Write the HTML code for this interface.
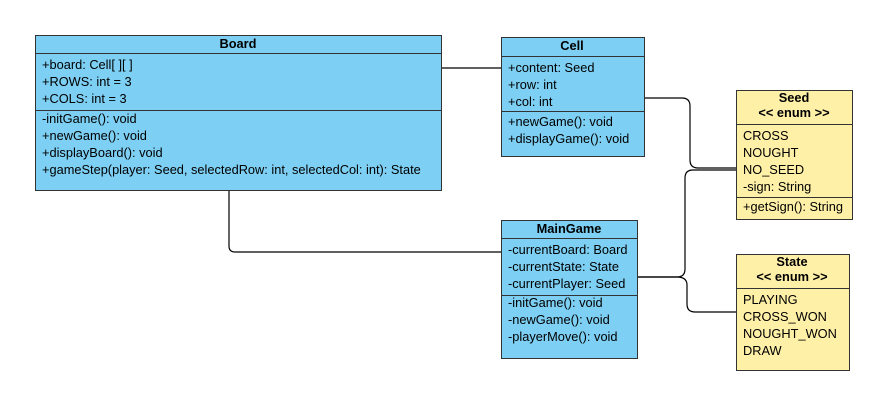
<!DOCTYPE html>
<html><head><style>body{margin:0;background:#fff}</style></head><body>
<svg width="885" height="400" xmlns="http://www.w3.org/2000/svg" font-family="Liberation Sans, Arial, sans-serif" font-size="12.8" fill="#000">
<g fill="none" stroke="#000" stroke-width="1.2">
<path d="M441 68 H501"/>
<path d="M229 190 V246 Q229 252 235 252 H501"/>
<path d="M644 98 H682 Q690 98 690 106 V160 Q690 168 698 168 H736"/>
<path d="M637 277 H677 Q685 277 685 269 V178 Q685 170 693 170 H736"/>
<path d="M637 277 H677 Q687 277 687 285 V304 Q687 312 695 312 H736"/>
</g>
<g stroke="#333" stroke-width="1">
<rect x="35.5" y="35.5" width="406" height="155" fill="#7dcff3"/>
<line x1="35" y1="53.5" x2="441" y2="53.5"/><line x1="35" y1="110.5" x2="441" y2="110.5"/>
<rect x="501.5" y="37.5" width="143" height="119" fill="#7dcff3"/>
<line x1="501" y1="56.5" x2="644" y2="56.5"/><line x1="501" y1="111.5" x2="644" y2="111.5"/>
<rect x="501.5" y="220.5" width="136" height="138" fill="#7dcff3"/>
<line x1="501" y1="238.5" x2="637" y2="238.5"/><line x1="501" y1="295.5" x2="637" y2="295.5"/>
<rect x="736.5" y="90.5" width="116" height="129" fill="#fff0a8"/>
<line x1="736" y1="124.5" x2="852" y2="124.5"/><line x1="736" y1="197.5" x2="852" y2="197.5"/>
<rect x="736.5" y="254.5" width="113" height="116" fill="#fff0a8"/>
<line x1="736" y1="288.5" x2="849" y2="288.5"/>
</g>
<g font-weight="bold" text-anchor="middle">
<text x="238" y="48">Board</text>
<text x="572" y="50">Cell</text>
<text x="569" y="233">MainGame</text>
<text x="794" y="102">Seed</text><text x="794" y="117">&lt;&lt; enum &gt;&gt;</text>
<text x="792" y="266">State</text><text x="792" y="281">&lt;&lt; enum &gt;&gt;</text>
</g>
<g>
<text x="42" y="69">+board: Cell[ ][ ]</text>
<text x="42" y="86">+ROWS: int = 3</text>
<text x="42" y="103">+COLS: int = 3</text>
<text x="42" y="123">-initGame(): void</text>
<text x="42" y="140">+newGame(): void</text>
<text x="42" y="157">+displayBoard(): void</text>
<text x="42" y="174">+gameStep(player: Seed, selectedRow: int, selectedCol: int): State</text>
<text x="508" y="72">+content: Seed</text>
<text x="508" y="89">+row: int</text>
<text x="508" y="106">+col: int</text>
<text x="508" y="126">+newGame(): void</text>
<text x="508" y="143">+displayGame(): void</text>
<text x="508" y="254">-currentBoard: Board</text>
<text x="508" y="271">-currentState: State</text>
<text x="508" y="288">-currentPlayer: Seed</text>
<text x="508" y="307">-initGame(): void</text>
<text x="508" y="324">-newGame(): void</text>
<text x="508" y="341">-playerMove(): void</text>
<text x="743" y="140">CROSS</text>
<text x="743" y="157">NOUGHT</text>
<text x="743" y="174">NO_SEED</text>
<text x="743" y="191">-sign: String</text>
<text x="743" y="211">+getSign(): String</text>
<text x="743" y="304">PLAYING</text>
<text x="743" y="321">CROSS_WON</text>
<text x="743" y="338">NOUGHT_WON</text>
<text x="743" y="355">DRAW</text>
</g>
</svg>
</body></html>
